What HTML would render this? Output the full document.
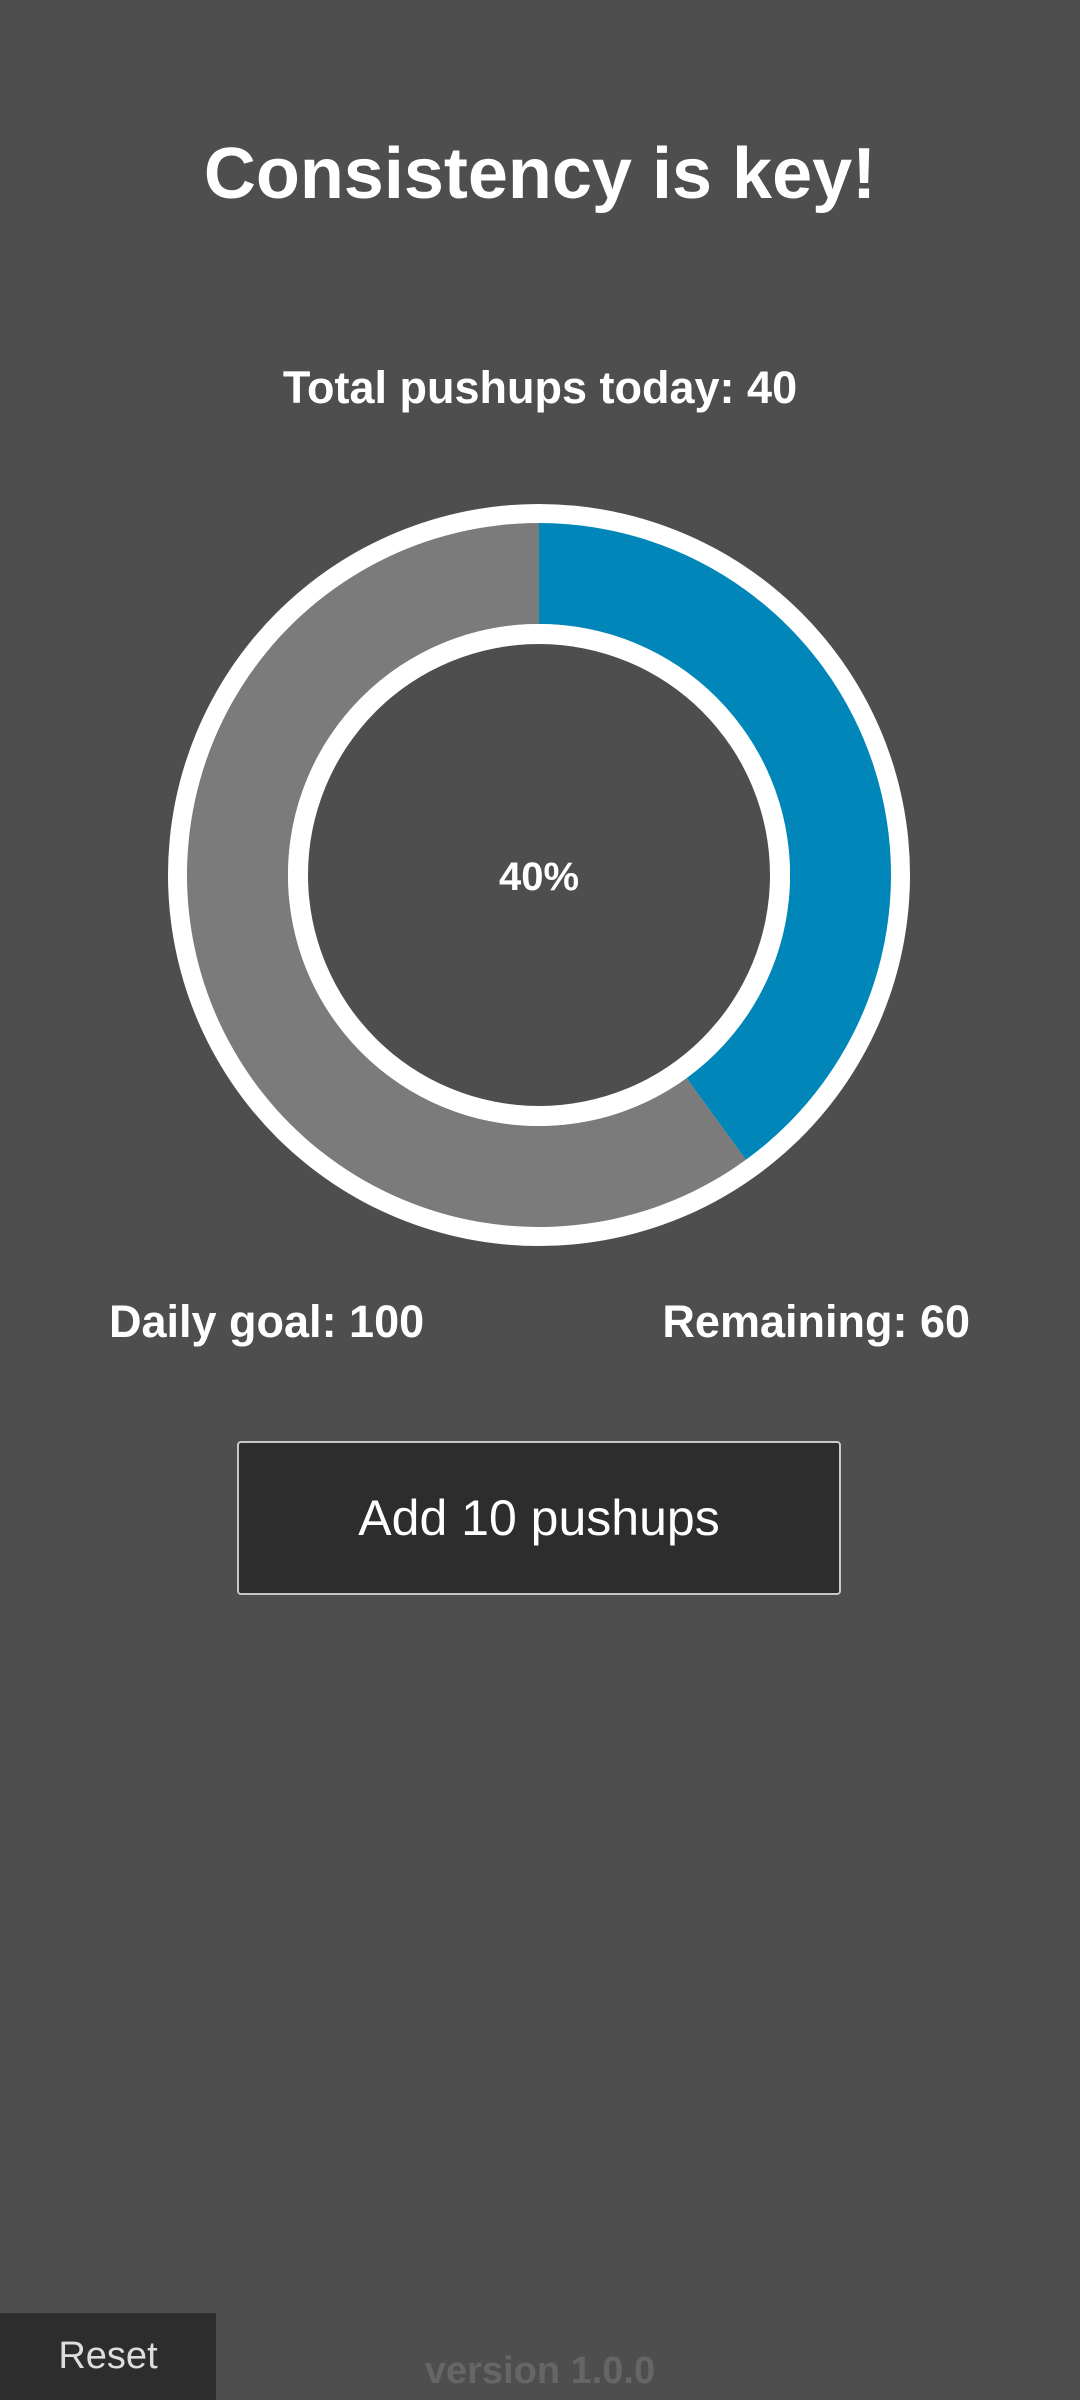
<!DOCTYPE html>
<html><head><meta charset="utf-8"><style>
html,body{margin:0;padding:0;width:1080px;height:2400px;background:#4e4e4e;overflow:hidden;font-family:"Liberation Sans",sans-serif;color:#fff}
.abs{position:absolute;white-space:nowrap}
</style></head><body>
<div class="abs" style="left:0;width:1080px;text-align:center;top:133px;font-size:72px;font-weight:bold;">Consistency is key!</div>
<div class="abs" style="left:0;width:1080px;text-align:center;top:362px;font-size:45px;font-weight:bold;">Total pushups today: 40</div>
<svg class="abs" style="left:0;top:0" width="1080" height="1300" id="chart"></svg>
<div class="abs" style="left:109px;top:1296px;font-size:45px;font-weight:bold;">Daily goal: 100</div>
<div class="abs" style="right:110px;top:1296px;font-size:45px;font-weight:bold;">Remaining: 60</div>
<div class="abs" style="left:237px;top:1441px;width:600px;height:150px;background:#2d2d2d;border:2px solid #c8c8c8;border-radius:4px;text-align:center;line-height:150px;font-size:50px;">Add 10 pushups</div>
<div class="abs" style="left:0;top:2313px;width:216px;height:87px;background:#2d2d2d;text-align:center;line-height:87px;font-size:38px;color:#ddd;">Reset</div>
<div class="abs" style="left:0;width:1080px;text-align:center;top:2350px;font-size:38px;color:#666;font-weight:bold;">version 1.0.0</div>
<script>
const categories = ["done", "remaining"];
const values = [40, 60];
const colors = ["#0086b8", "#7b7b7b"];
const svg = document.getElementById('chart');
const NS = "http://www.w3.org/2000/svg";
const cx = 539, cy = 875, rOut = 352, rIn = 251;
function el(t, a){const e=document.createElementNS(NS,t);for(const k in a)e.setAttribute(k,a[k]);svg.appendChild(e);return e;}
const ring = el('circle',{cx,cy,r:371,fill:'#fff'});


const total = values.reduce((a,b)=>a+b,0);
function pt(r,a){return [cx+r*Math.sin(a), cy-r*Math.cos(a)];}
let start = 0;
values.forEach((v,i)=>{
  const end = start + v/total*2*Math.PI;
  const large = (end-start) > Math.PI ? 1 : 0;
  const [x1,y1]=pt(rOut,start),[x2,y2]=pt(rOut,end),[x3,y3]=pt(rIn,end),[x4,y4]=pt(rIn,start);
  const p = el('path',{d:`M${x1} ${y1}A${rOut} ${rOut} 0 ${large} 1 ${x2} ${y2}L${x3} ${y3}A${rIn} ${rIn} 0 ${large} 0 ${x4} ${y4}Z`,fill:colors[i]});
  
  
  start = end;
});
const inner = el('circle',{cx,cy,r:251,fill:'#fff'});


const hole = el('circle',{cx,cy,r:231,fill:'#4e4e4e'});


const t = el('text',{x:cx,y:cy+15,'text-anchor':'middle','font-size':40,'font-weight':'bold',fill:'#fff','font-family':'Liberation Sans, sans-serif'});
t.textContent = Math.round(values[0]/total*100)+'%';


</script>
</body></html>
